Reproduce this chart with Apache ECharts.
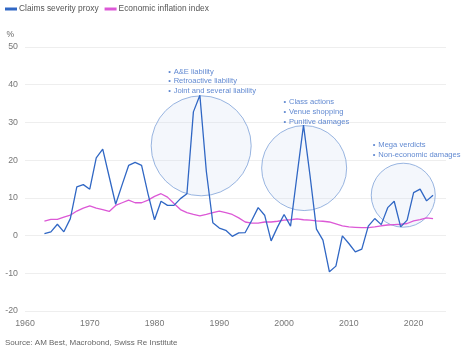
<!DOCTYPE html>
<html><head><meta charset="utf-8">
<script src="https://cdn.jsdelivr.net/npm/echarts@6/dist/echarts.min.js"></script>
<style>html,body{margin:0;padding:0;background:#fff}#c{width:467px;height:357px}</style>
</head><body><div id="c"></div>
<script>
const years = [1963,1964,1965,1966,1967,1968,1969,1970,1971,1972,1973,1974,1975,1976,1977,1978,1979,1980,1981,1982,1983,1984,1985,1986,1987,1988,1989,1990,1991,1992,1993,1994,1995,1996,1997,1998,1999,2000,2001,2002,2003,2004,2005,2006,2007,2008,2009,2010,2011,2012,2013,2014,2015,2016,2017,2018,2019,2020,2021,2022,2023];
const claimsSeverity = [0.5,1.0,3.0,1.0,4.5,12.9,13.5,12.3,20.6,22.9,15.6,8.3,13.5,18.6,19.4,18.6,11.0,4.2,9.1,8.0,8.0,9.8,11.1,32.8,37.2,17.0,3.4,2.0,1.4,-0.2,0.7,0.8,4.0,7.4,5.4,-1.4,2.3,5.6,2.5,16.0,29.3,16.0,1.7,-1.2,-9.6,-8.1,-0.1,-2.1,-4.3,-3.6,2.5,4.5,2.9,7.4,9.1,2.3,4.1,11.4,12.3,9.2,10.7];
const inflationIndex = [3.8,4.3,4.3,4.9,5.4,6.5,7.3,7.9,7.3,6.9,6.4,8.0,8.7,9.4,8.7,8.7,9.4,10.4,11.1,10.2,8.5,6.9,6.1,5.6,5.2,5.6,6.1,6.5,6.1,5.6,4.7,3.6,3.3,3.3,3.6,3.6,3.8,4.1,4.2,4.4,4.2,4.1,3.9,3.8,3.6,3.1,2.6,2.3,2.2,2.1,2.1,2.3,2.6,2.8,2.9,3.0,3.2,3.9,4.2,4.7,4.5];
const seriesNames = ['Claims severity proxy','Economic inflation index'];
const yTicks = {min:-20, max:50, interval:10};
const xTicks = {min:1960, max:2025, interval:10};
// highlight circles: [year, value]
const circleCenters = [[1987.2,23.8],[2003.1,17.9],[2018.4,10.7]];
const circleDiameters = [100,85,64];
// annotation anchors (top-left of text): [year, value]
const noteAnchors = [[1982.1,44.8],[1999.9,36.6],[2013.7,25.2]];
const noteTexts = [
  ['A&E liability','Retroactive liability','Joint and several liability'],
  ['Class actions','Venue shopping','Punitive damages'],
  ['Mega verdicts','Non-economic damages']
];
const sourceText = 'Source: AM Best, Macrobond, Swiss Re Institute';

const FONT = '"Liberation Sans", Arial, sans-serif';
const BLUE = '#3067c4';
const MAGENTA = '#dc58d6';
const NOTE = '#3a6cc6';

const chart = echarts.init(document.getElementById('c'), null, {renderer:'canvas'});
const pair = arr => years.map((y,i)=>[y,arr[i]]);
chart.setOption({
  animation:false,
  textStyle:{fontFamily:FONT},
  grid:{left:25,right:21,top:47,bottom:46},
  legend:{
    left:0, top:0, itemWidth:12, itemHeight:3, itemGap:6,
    icon:'rect',
    textStyle:{fontSize:8.4, color:'#555', fontFamily:FONT, padding:[0,0,0,-3]},
    data:seriesNames
  },
  xAxis:{
    type:'value', min:xTicks.min, max:xTicks.max, interval:xTicks.interval,
    axisLine:{show:false}, axisTick:{show:false}, splitLine:{show:false},
    axisLabel:{color:'#777', fontSize:8.8, margin:8, showMaxLabel:false, fontFamily:FONT,
      formatter:v=>String(v)}
  },
  yAxis:{
    type:'value', min:yTicks.min, max:yTicks.max, interval:yTicks.interval,
    name:'%', nameLocation:'end', nameGap:8,
    nameTextStyle:{color:'#666', fontSize:8.5, align:'right', padding:[0,11,0,0]},
    axisLine:{show:false}, axisTick:{show:false},
    splitLine:{lineStyle:{color:'#eeeeee', width:1}},
    axisLabel:{color:'#777', fontSize:8.8, margin:7, fontFamily:FONT}
  },
  series:[
    {
      type:'scatter', name:'circles', silent:true, z:1,
      data:circleCenters.map((c,i)=>({value:c, symbolSize:circleDiameters[i]})),
      itemStyle:{color:'rgba(214,226,245,0.35)', borderColor:'#7fa2d8', borderWidth:1}
    },
    {
      type:'line', name:seriesNames[0], data:pair(claimsSeverity), z:4,
      showSymbol:false, symbol:'none', color:BLUE,
      lineStyle:{color:BLUE, width:1.3}
    },
    {
      type:'line', name:seriesNames[1], data:pair(inflationIndex), z:3,
      showSymbol:false, symbol:'none', color:MAGENTA,
      lineStyle:{color:MAGENTA, width:1.3}
    },
    {
      type:'scatter', name:'notes', silent:true, z:5, symbolSize:0,
      data:noteAnchors.map((a,i)=>({value:a, label:{formatter:noteTexts[i].map(t=>'{b|•}{t|'+t+'}').join('\n')}})),
      label:{
        show:true, position:[0,0], align:'left', verticalAlign:'top',
        color:NOTE, fontSize:7.6, lineHeight:9.7, fontFamily:FONT,
        rich:{
          b:{color:NOTE, fontSize:7.6, width:5.5, lineHeight:9.7, fontFamily:FONT},
          t:{color:NOTE, fontSize:7.6, lineHeight:9.7, fontFamily:FONT}
        }
      }
    }
  ],
  graphic:[{
    type:'text', left:5, top:339,
    style:{text:sourceText, fill:'#666', font:'8px '+FONT}
  }]
});
</script></body></html>
